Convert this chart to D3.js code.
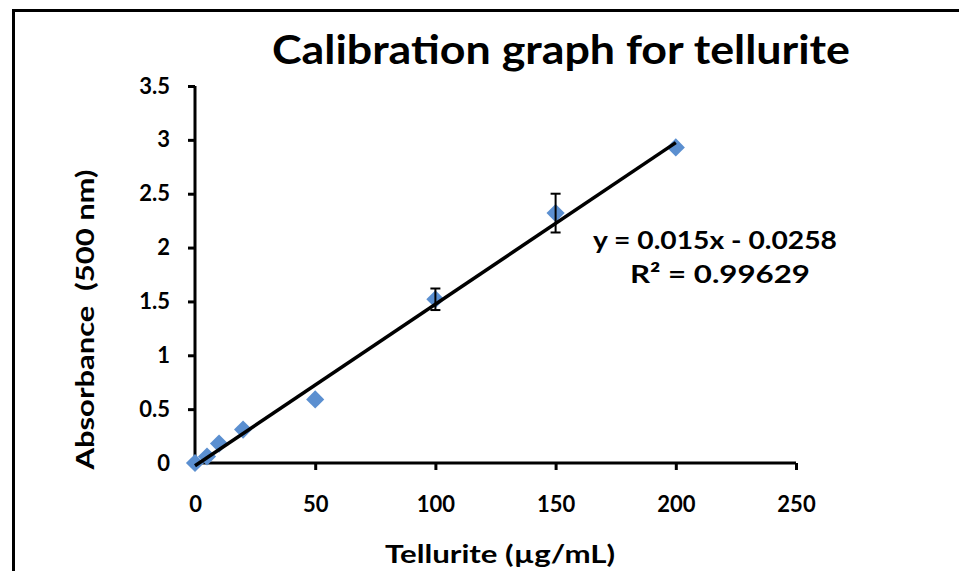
<!DOCTYPE html>
<html>
<head>
<meta charset="utf-8">
<script src="https://cdn.jsdelivr.net/npm/d3@7/dist/d3.min.js"></script>
<style>
  html, body { margin: 0; padding: 0; background: #fff; }
  svg { display: block; }
  text { font-family: Lato, "Open Sans", sans-serif; font-weight: bold; fill: #000; }
</style>
</head>
<body>
<svg id="chart" width="959" height="571"></svg>
<script>
// Tellurite standards (µg/mL) and measured absorbance at 500 nm
const concentration = [0, 5, 10, 20, 50, 100, 150, 200];
const absorbance    = [0.00, 0.06, 0.18, 0.31, 0.59, 1.52, 2.32, 2.93];
const stdError      = [0, 0, 0, 0, 0, 0.10, 0.18, 0];

// Linear fit reported on the chart
const slope = 0.015;
const intercept = -0.0258;
const rSquared = "0.99629";

const xTicks = [0, 50, 100, 150, 200, 250];
const yTicks = [0, 0.5, 1, 1.5, 2, 2.5, 3, 3.5];

const titleText = "Calibration graph for tellurite";
const xTitle = "Tellurite (\u00b5g/mL)";
const yTitle = "Absorbance\u00a0\u00a0(500 nm)";

const data = concentration.map((c, i) => ({ x: c, y: absorbance[i], e: stdError[i] }));

const svg = d3.select("#chart");
const x = d3.scaleLinear().domain([0, 250]).range([195, 796]);
const y = d3.scaleLinear().domain([0, 3.5]).range([463, 86]);

// text helper: bold label fitted to a fixed run length
function label(parent, str, size, len) {
  const t = parent.append("text")
    .attr("text-anchor", "middle")
    .style("font-size", size + "px")
    .text(str);
  if (len) t.attr("textLength", len).attr("lengthAdjust", "spacingAndGlyphs");
  return t;
}

// outer chart frame
svg.append("rect")
  .attr("x", 13.5).attr("y", 10.5)
  .attr("width", 1000).attr("height", 1000)
  .attr("fill", "none").attr("stroke", "#000").attr("stroke-width", 3);

// title
label(svg, titleText, 41, 578).attr("x", 561).attr("y", 64);

// axes
const yAxis = d3.axisLeft(y).tickValues(yTicks).tickSize(7).tickPadding(18)
  .tickFormat(d3.format("~g"));
const xAxis = d3.axisBottom(x).tickValues(xTicks).tickSize(7).tickPadding(26)
  .tickFormat(d3.format("d"));

const gx = svg.append("g").attr("transform", `translate(0,${y(0)})`).call(xAxis);
const gy = svg.append("g").attr("transform", `translate(${x(0)},0)`).call(yAxis);

[gx, gy].forEach(g => {
  g.select(".domain").attr("stroke", "#000").attr("stroke-width", 3);
  g.selectAll(".tick line").attr("stroke", "#000").attr("stroke-width", 3);
  g.selectAll(".tick text").style("font-size", "22px").style("font-family", "Lato, sans-serif").style("font-weight", "bold");
});
gx.select(".domain").attr("d", `M${x(0)},0H${x(250)}`);
gy.select(".domain").attr("d", `M0,${y(3.5)}V${y(0)}`);

// axis titles
label(svg, xTitle, 25, 230).attr("x", 500).attr("y", 563);

label(svg, yTitle, 25, 300)
  .attr("transform", `translate(94,${(y(0) + y(3.5)) / 2 + 45}) rotate(-90)`);

// markers
const diamond = d3.symbol().type(d3.symbolDiamond2).size(210);
svg.append("g").selectAll("path")
  .data(data)
  .join("path")
  .attr("transform", d => `translate(${x(d.x)},${y(d.y)})`)
  .attr("d", diamond)
  .attr("fill", "#5b8fd0");

// error bars
const eb = svg.append("g").attr("stroke", "#000").attr("stroke-width", 2);
data.filter(d => d.e > 0).forEach(d => {
  const cx = x(d.x), y1 = y(d.y + d.e), y2 = y(d.y - d.e);
  eb.append("line").attr("x1", cx).attr("x2", cx).attr("y1", y1).attr("y2", y2);
  eb.append("line").attr("x1", cx - 5).attr("x2", cx + 5).attr("y1", y1).attr("y2", y1);
  eb.append("line").attr("x1", cx - 5).attr("x2", cx + 5).attr("y1", y2).attr("y2", y2);
});

// linear trendline across the measured range
const xMin = d3.min(concentration), xMax = d3.max(concentration);
svg.append("line")
  .attr("x1", x(xMin)).attr("y1", y(slope * xMin + intercept))
  .attr("x2", x(xMax)).attr("y2", y(slope * xMax + intercept))
  .attr("stroke", "#000").attr("stroke-width", 3.5);

// fit equation
const fmtIntercept = intercept < 0 ? ` - ${Math.abs(intercept)}` : ` + ${intercept}`;
label(svg, `y = ${slope}x${fmtIntercept}`, 24, 244).attr("x", 715).attr("y", 249);
label(svg, `R\u00b2 = ${rSquared}`, 24, 180).attr("x", 720).attr("y", 283);
</script>
</body>
</html>
